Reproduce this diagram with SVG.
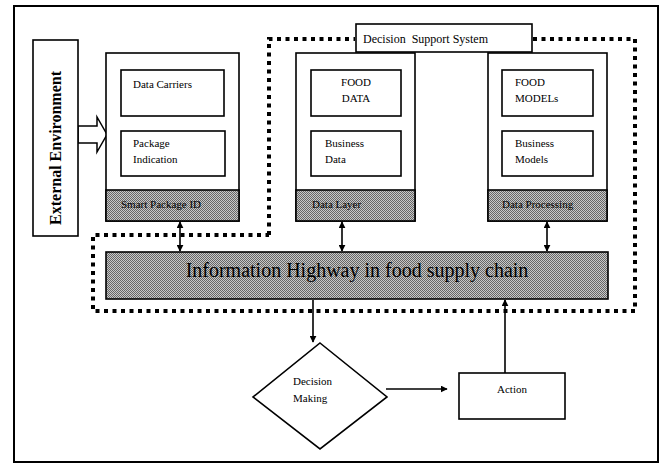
<svg xmlns="http://www.w3.org/2000/svg" width="661" height="464" viewBox="0 0 661 464">
<defs>
<pattern id="hatch" width="2" height="2" patternUnits="userSpaceOnUse">
<rect width="2" height="2" fill="#c8c8c8"/>
<rect width="1" height="1" fill="#666"/>
<rect x="1" y="1" width="1" height="1" fill="#666"/>
</pattern>
<marker id="ah" viewBox="0 0 10 10" refX="9" refY="5" markerWidth="7" markerHeight="7" orient="auto-start-reverse" markerUnits="userSpaceOnUse">
<path d="M0,0 L10,5 L0,10 z" fill="#000"/>
</marker>
</defs>
<style>
.box{fill:#fff;stroke:#000;stroke-width:1.6}
.band{fill:url(#hatch);stroke:#000;stroke-width:1.6}
.t{font-family:"Liberation Serif",serif;font-size:11px;fill:#000}
.c{text-anchor:middle}
.dot{fill:none;stroke:#000;stroke-width:4;stroke-dasharray:4 4.5}
.ln{fill:none;stroke:#000;stroke-width:1.6}
</style>
<rect width="661" height="464" fill="#fff"/>
<rect x="14" y="6" width="644" height="456" fill="none" stroke="#000" stroke-width="2"/>

<g id="connectors">
<path class="dot" d="M269,235 L269,39 L355,39 M533,39 L635,39 L635,311 L93,311 L93,235 L269,235"/>
<path class="ln" d="M180,222 V251" marker-start="url(#ah)" marker-end="url(#ah)"/>
<path class="ln" d="M342,222 V251" marker-start="url(#ah)" marker-end="url(#ah)"/>
<path class="ln" d="M547,222 V251" marker-start="url(#ah)" marker-end="url(#ah)"/>
<path class="ln" d="M313,300 V342" marker-end="url(#ah)"/>
<path class="ln" d="M386,389 H447" marker-end="url(#ah)"/>
<path class="ln" d="M505,373 V300" marker-end="url(#ah)"/>
<polygon points="78,126 97,126 97,117 107,134.5 97,152 97,143 78,143" fill="#fff" stroke="#000" stroke-width="1.5"/>
</g>

<g id="external">
<rect class="box" x="33" y="40" width="45" height="196"/>
<text class="t c" transform="translate(61,148) rotate(-90)" style="font-size:16px;font-weight:bold">External Environment</text>
</g>

<g id="smart-package">
<rect class="box" x="106" y="53" width="133" height="168"/>
<rect class="band" x="106" y="190" width="133" height="31"/>
<text class="t" x="121" y="208">Smart Package ID</text>
</g>
<g id="data-carriers">
<rect class="box" x="121" y="70" width="103" height="46"/>
<text class="t" x="133" y="88">Data Carriers</text>
</g>
<g id="package-indication">
<rect class="box" x="121" y="131" width="104" height="45"/>
<text class="t" x="133" y="147">Package</text>
<text class="t" x="133" y="163">Indication</text>
</g>

<g id="data-layer">
<rect class="box" x="296" y="53" width="119" height="168"/>
<rect class="band" x="296" y="190" width="119" height="31"/>
<text class="t" x="312" y="208">Data Layer</text>
</g>
<g id="food-data">
<rect class="box" x="311" y="70" width="90" height="46"/>
<text class="t c" x="356" y="86">FOOD</text>
<text class="t c" x="356" y="102">DATA</text>
</g>
<g id="business-data">
<rect class="box" x="311" y="131" width="90" height="45"/>
<text class="t" x="325" y="147">Business</text>
<text class="t" x="325" y="163">Data</text>
</g>

<g id="data-processing">
<rect class="box" x="488" y="53" width="119" height="168"/>
<rect class="band" x="488" y="190" width="119" height="31"/>
<text class="t" x="502" y="208">Data Processing</text>
</g>
<g id="food-models">
<rect class="box" x="502" y="70" width="91" height="46"/>
<text class="t" x="515" y="86">FOOD</text>
<text class="t" x="515" y="102">MODELs</text>
</g>
<g id="business-models">
<rect class="box" x="502" y="131" width="91" height="45"/>
<text class="t" x="515" y="147">Business</text>
<text class="t" x="515" y="163">Models</text>
</g>

<g id="dss">
<rect class="box" x="356" y="24" width="176" height="28"/>
<text class="t" x="363" y="43" style="font-size:12px" xml:space="preserve">Decision  Support System</text>
</g>

<g id="highway">
<rect class="band" x="106" y="252" width="502" height="47"/>
<text class="t c" x="357" y="277" style="font-size:20px">Information Highway in food supply chain</text>
</g>

<g id="decision">
<polygon points="320,343 387,397 320,449 253,397" fill="#fff" stroke="#000" stroke-width="1.6"/>
<text class="t" x="293" y="385">Decision</text>
<text class="t" x="293" y="402">Making</text>
</g>

<g id="action">
<rect class="box" x="459" y="373" width="106" height="46"/>
<text class="t c" x="512" y="393">Action</text>
</g>
</svg>
